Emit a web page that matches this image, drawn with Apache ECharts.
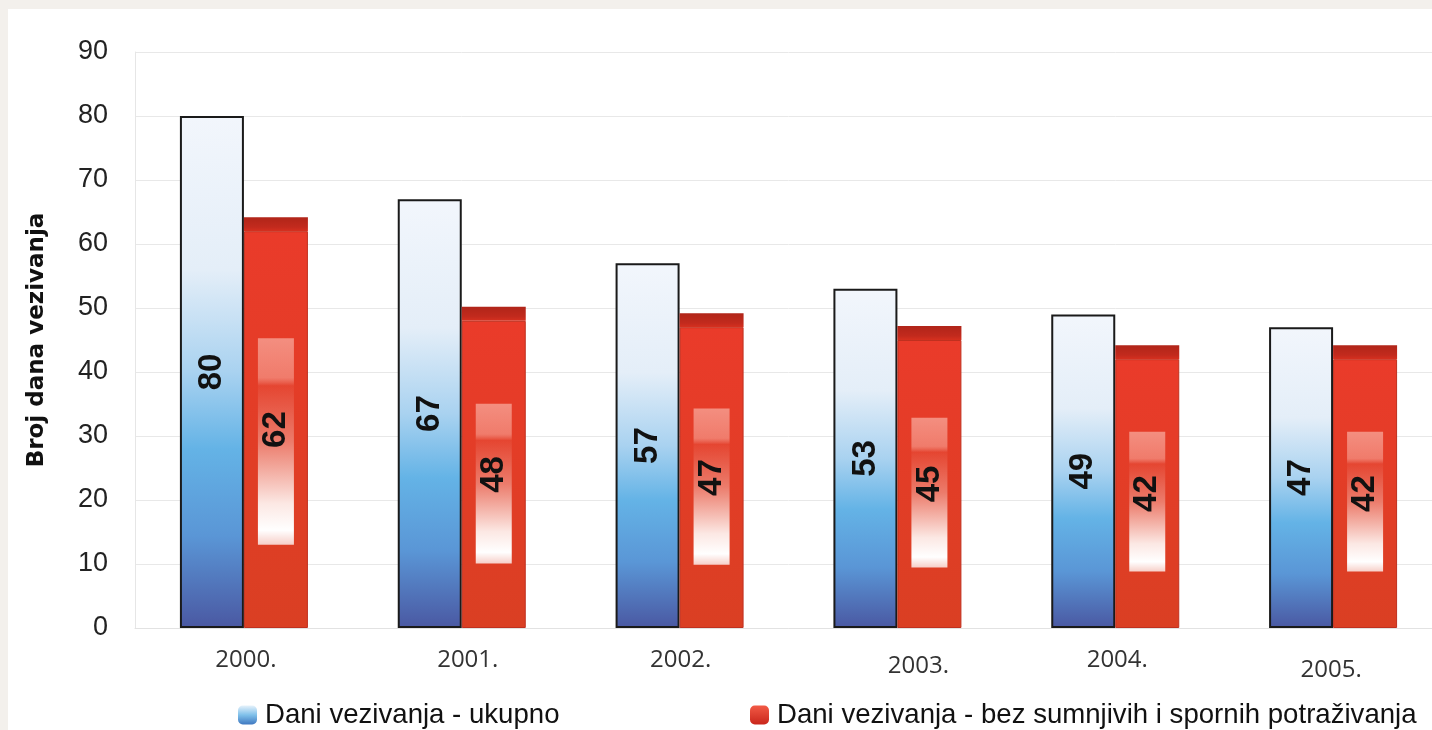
<!DOCTYPE html>
<html>
<head>
<meta charset="utf-8">
<script src="https://cdn.jsdelivr.net/npm/echarts@6/dist/echarts.min.js"></script>
<style>
  html, body { margin: 0; padding: 0; background: #f3f0ec; width: 1432px; height: 730px; overflow: hidden; position: relative; }
  #chart { position: absolute; left: 8px; top: 9px; width: 1434px; height: 721px; background: #ffffff; }
</style>
</head>
<body>
<div id="chart"></div>
<script>
// ---- data ----
var categories = ['2000.', '2001.', '2002.', '2003.', '2004.', '2005.'];
var totalDays = [80, 67, 57, 53, 49, 47];
var netDays = [62, 48, 47, 45, 42, 42];
var seriesNames = ['Dani vezivanja - ukupno', 'Dani vezivanja - bez sumnjivih i spornih potraživanja'];
var yTicks = { min: 0, max: 90, interval: 10 };
var yAxisName = 'Broj dana vezivanja';

// styling: small per-label nudges of the category labels as in the original [dx, dy]
var xLabelNudge = [[2, 0], [6, 0], [1, -3], [21, 3], [2, -5], [-2, 5]];

var BAR_W = 64;

var chart = echarts.init(document.getElementById('chart'), null, { renderer: 'canvas' });

var blueGrad = new echarts.graphic.LinearGradient(0, 0, 0, 1, [
  { offset: 0, color: '#f2f6fc' },
  { offset: 0.3, color: '#e4eef8' },
  { offset: 0.5, color: '#a9d2f0' },
  { offset: 0.65, color: '#64b3e6' },
  { offset: 0.82, color: '#5a96d6' },
  { offset: 1, color: '#4a58a2' }
]);
var redGrad = new echarts.graphic.LinearGradient(0, 0, 0, 1, [
  { offset: 0, color: '#ea3b2a' },
  { offset: 1, color: '#da3f23' }
]);

var customData = netDays.map(function (v, i) { return [i, v]; });

var rich = {};
xLabelNudge.forEach(function (d, i) {
  rich['c' + i] = {
    fontFamily: 'Open Sans', fontSize: 24, color: '#333',
    padding: [Math.max(0, 2 * d[1]), Math.max(0, -2 * d[0]), Math.max(0, -2 * d[1]), Math.max(0, 2 * d[0])]
  };
});

var option = {
  animation: false,
  grid: { left: 127, right: 0, top: 43, bottom: 102, containLabel: false },
  xAxis: {
    type: 'category',
    data: categories,
    axisTick: { show: false },
    axisLine: { lineStyle: { color: '#e2e2e2', width: 1 } },
    axisLabel: {
      margin: 20, fontFamily: 'Open Sans', fontSize: 24, color: '#333',
      formatter: function (val, idx) { return '{c' + idx + '|' + val + '}'; },
      rich: rich
    },
    splitLine: { show: false }
  },
  yAxis: {
    type: 'value',
    min: yTicks.min, max: yTicks.max, interval: yTicks.interval,
    name: yAxisName,
    nameLocation: 'middle',
    nameRotate: 90,
    nameGap: 86,
    nameTextStyle: { fontFamily: 'DejaVu Sans', fontWeight: 'bold', fontSize: 23, color: '#111' },
    axisLine: { show: true, lineStyle: { color: '#e6e6e6' } },
    axisTick: { show: false },
    axisLabel: { margin: 27, fontFamily: 'Liberation Sans', fontSize: 27, color: '#222' },
    splitLine: { lineStyle: { color: '#e8e8e8', width: 1 } }
  },
  legend: [
    {
      data: [{ name: seriesNames[0], icon: 'roundRect', itemStyle: { color: new echarts.graphic.LinearGradient(0, 0, 0, 1, [{ offset: 0, color: '#e6f2fb' }, { offset: 0.5, color: '#7fc0ea' }, { offset: 1, color: '#3f78c0' }]), borderWidth: 0 } }],
      left: 225, top: 687,
      itemWidth: 19, itemHeight: 19, itemGap: 10,
      textStyle: { fontFamily: 'Liberation Sans', fontSize: 27.6, color: '#111', padding: [0, 0, 0, 3] }
    },
    {
      data: [{ name: seriesNames[1], icon: 'roundRect', itemStyle: { color: new echarts.graphic.LinearGradient(0, 0, 0, 1, [{ offset: 0, color: '#f25a46' }, { offset: 1, color: '#c9261b' }]), borderWidth: 0 } }],
      left: 737, top: 687,
      itemWidth: 19, itemHeight: 19, itemGap: 10,
      textStyle: { fontFamily: 'Liberation Sans', fontSize: 27.6, color: '#111', padding: [0, 0, 0, 3] }
    }
  ],
  series: [
    {
      name: seriesNames[0],
      type: 'bar',
      data: totalDays,
      barWidth: BAR_W,
      barGap: '0%',
      itemStyle: { color: blueGrad, borderColor: '#1a1a1a', borderWidth: 2 },
      label: {
        show: true, position: 'inside', rotate: 90,
        fontFamily: 'Liberation Sans', fontWeight: 'bold', fontSize: 33, color: '#111'
      },
      z: 2
    },
    {
      name: seriesNames[1],
      type: 'bar',
      data: netDays,
      barWidth: BAR_W,
      itemStyle: { color: redGrad, borderColor: '#c0301f', borderWidth: 1 },
      label: { show: false },
      z: 2
    },
    {
      name: 'decor',
      type: 'custom',
      data: customData,
      z: 3,
      silent: true,
      renderItem: function (params, api) {
        var idx = api.value(0), v = api.value(1);
        var base = api.coord([idx, 0]);
        var top = api.coord([idx, v]);
        var x = base[0];
        var h = base[1] - top[1];
        var capH = 14;
        var gx = x + 14, gw = 36;
        var gTop = base[1] - 0.73 * h, gH = 0.52 * h;
        return {
          type: 'group',
          children: [
            {
              type: 'rect',
              shape: { x: x, y: top[1] - capH, width: BAR_W, height: capH },
              style: {
                fill: new echarts.graphic.LinearGradient(0, 0, 0, 1, [
                  { offset: 0, color: '#b02519' },
                  { offset: 0.7, color: '#c22a1d' },
                  { offset: 1, color: '#d6301f' }
                ])
              }
            },
            {
              type: 'rect',
              shape: { x: gx, y: gTop, width: gw, height: gH },
              style: {
                fill: new echarts.graphic.LinearGradient(0, 0, 0, 1, [
                  { offset: 0, color: 'rgba(255,210,200,0.55)' },
                  { offset: 0.19, color: 'rgba(255,200,190,0.45)' },
                  { offset: 0.23, color: 'rgba(255,235,230,0.05)' },
                  { offset: 0.5, color: 'rgba(255,240,236,0.35)' },
                  { offset: 0.8, color: 'rgba(255,250,248,0.9)' },
                  { offset: 0.93, color: 'rgba(255,255,255,1)' },
                  { offset: 1, color: 'rgba(255,255,255,0.75)' }
                ])
              }
            },
            {
              type: 'text',
              x: x + BAR_W / 2,
              y: top[1] + h / 2,
              rotation: Math.PI / 2,
              style: {
                text: String(v),
                fontFamily: 'Liberation Sans', fontWeight: 'bold', fontSize: 33,
                fill: '#111', align: 'center', verticalAlign: 'middle'
              }
            }
          ]
        };
      }
    }
  ]
};

chart.setOption(option);
</script>
</body>
</html>
